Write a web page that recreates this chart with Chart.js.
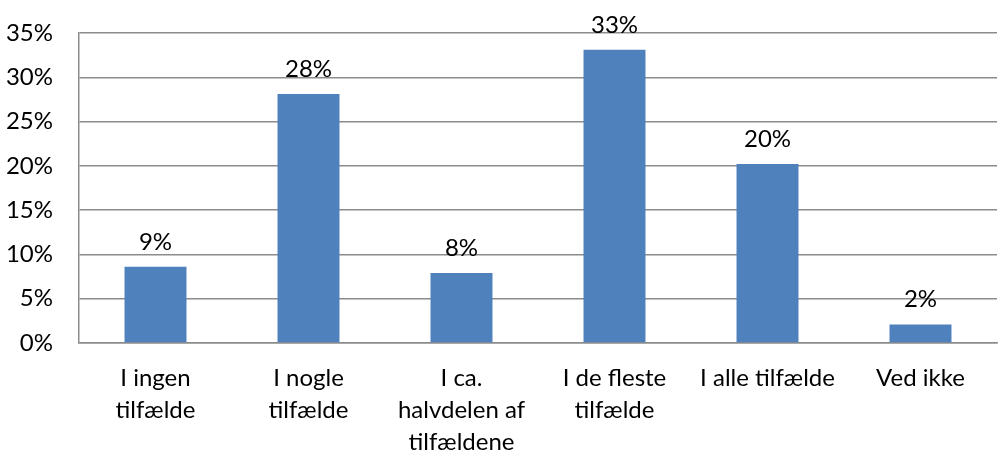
<!DOCTYPE html>
<html>
<head>
<meta charset="utf-8">
<script src="https://cdn.jsdelivr.net/npm/chart.js@4"></script>
<style>
  html, body { margin: 0; padding: 0; background: #fff; }
  #wrap { width: 998px; height: 454px; position: relative; }
</style>
</head>
<body>
<div id="wrap"><canvas id="answer-chart"></canvas></div>
<script>
const categories = [
    ['I ingen', 'tilfælde'],
    ['I nogle', 'tilfælde'],
    ['I ca.', 'halvdelen af', 'tilfældene'],
    ['I de fleste', 'tilfælde'],
    ['I alle tilfælde'],
    ['Ved ikke']
];
const shares = [8.6, 28.1, 7.9, 33.1, 20.2, 2.1];
const shareLabels = ['9%', '28%', '8%', '33%', '20%', '2%'];

const gridColor = '#8c8c8c';
const fontFamily = 'Lato, "Liberation Sans", sans-serif';

// draws the value text above each bar
const barLabels = {
    id: 'barLabels',
    afterDatasetsDraw(chart) {
        const ctx = chart.ctx;
        const meta = chart.getDatasetMeta(0);
        ctx.save();
        ctx.font = '24px ' + fontFamily;
        ctx.fillStyle = '#000';
        ctx.textAlign = 'center';
        ctx.textBaseline = 'middle';
        meta.data.forEach((bar, i) => {
            ctx.fillText(shareLabels[i], bar.x, bar.y - 25);
        });
        ctx.restore();
    }
};

var ctx = document.getElementById('answer-chart').getContext('2d');
var answerChart = new Chart(ctx, {
    type: 'bar',
    data: {
        labels: categories,
        datasets: [
            {
                data: shares,
                backgroundColor: '#4f81bd',
                borderWidth: 0,
                barPercentage: 0.405,
                categoryPercentage: 1
            }
        ]
    },
    options: {
        responsive: true,
        maintainAspectRatio: false,
        animation: false,
        layout: {
            padding: { top: 33, right: 1, left: 0, bottom: 0 }
        },
        plugins: {
            legend: { display: false },
            tooltip: { enabled: false }
        },
        scales: {
            x: {
                grid: { display: false, drawTicks: false },
                border: { display: true, color: gridColor, width: 1.5 },
                ticks: {
                    color: '#000',
                    font: { family: fontFamily, size: 24, lineHeight: 1.333 },
                    padding: 19,
                    maxRotation: 0,
                    minRotation: 0,
                    autoSkip: false
                },
                afterFit: (scale) => { scale.height = 111; }
            },
            y: {
                min: 0,
                max: 35,
                grid: { color: gridColor, lineWidth: 1.5, drawTicks: false },
                border: { display: true, color: gridColor, width: 1.5 },
                ticks: {
                    stepSize: 5,
                    color: '#000',
                    padding: 26,
                    font: { family: fontFamily, size: 24 },
                    callback: (v) => v + '%'
                },
                afterFit: (scale) => {
                    scale.width = 79;
                    scale.paddingTop = 0;
                    scale.paddingBottom = 0;
                }
            }
        }
    },
    plugins: [barLabels]
});
</script>
</body>
</html>
